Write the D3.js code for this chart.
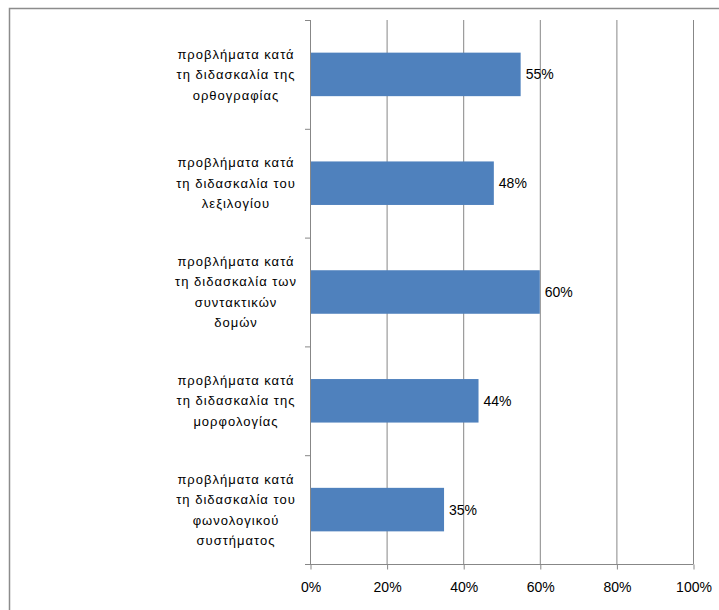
<!DOCTYPE html>
<html>
<head>
<meta charset="utf-8">
<script src="https://cdn.jsdelivr.net/npm/d3@7"></script>
<style>
  html, body { margin: 0; padding: 0; background: #fff; }
  svg { display: block; }
</style>
</head>
<body>
<svg id="chart" width="719" height="610"></svg>
<script>
// Categories (each entry is a list of wrapped label lines)
const categories = [
  ["προβλήματα κατά", "τη διδασκαλία της", "ορθογραφίας"],
  ["προβλήματα κατά", "τη διδασκαλία του", "λεξιλογίου"],
  ["προβλήματα κατά", "τη διδασκαλία των", "συντακτικών", "δομών"],
  ["προβλήματα κατά", "τη διδασκαλία της", "μορφολογίας"],
  ["προβλήματα κατά", "τη διδασκαλία του", "φωνολογικού", "συστήματος"]
];
// Percentage of respondents per category
const values = [55, 48, 60, 44, 35];
// Value axis ticks
const xTicks = [0, 20, 40, 60, 80, 100];

const svg = d3.select("#chart");
const font = "'Liberation Sans', Arial, sans-serif";
const gridColor = "#878787";

// Chart frame
svg.append("rect")
  .attr("x", 9.5).attr("y", 8.5)
  .attr("width", 730).attr("height", 620)
  .attr("fill", "none")
  .attr("stroke", "#8c8c8c")
  .attr("stroke-width", 1.5);

const plotL = 310, plotR = 693, plotT = 20, plotB = 564;

const x = d3.scaleLinear().domain([0, 100]).range([plotL, plotR]);
const y = d3.scaleBand()
  .domain(d3.range(categories.length))
  .range([plotT, plotB])
  .paddingInner(0.6)
  .paddingOuter(0.3);

// Vertical gridlines
svg.append("g")
  .selectAll("line")
  .data(xTicks.filter(d => d > 0))
  .join("line")
  .attr("x1", d => x(d) + 0.5).attr("x2", d => x(d) + 0.5)
  .attr("y1", plotT).attr("y2", plotB)
  .attr("stroke", gridColor)
  .attr("stroke-width", 1);

// Bars
svg.append("g")
  .selectAll("rect")
  .data(values)
  .join("rect")
  .attr("x", x(0))
  .attr("y", (d, i) => y(i))
  .attr("width", d => x(d) - x(0))
  .attr("height", y.bandwidth())
  .attr("fill", "#4f81bd");

// Value labels
svg.append("g")
  .selectAll("text")
  .data(values)
  .join("text")
  .attr("x", d => x(d) + 5)
  .attr("y", (d, i) => y(i) + y.bandwidth() / 2)
  .attr("dy", "0.36em")
  .attr("font-family", font)
  .attr("font-size", 14)
  .attr("fill", "#000")
  .text(d => d + "%");

// Value axis
const xAxis = d3.axisBottom(x)
  .tickValues(xTicks)
  .tickFormat(d => d + "%")
  .tickSizeInner(5)
  .tickSizeOuter(0)
  .tickPadding(13);
const gx = svg.append("g")
  .attr("transform", `translate(0.5,${plotB + 0.5})`)
  .call(xAxis);
gx.select(".domain").remove();
gx.append("line")
  .attr("x1", plotL - 5.5).attr("x2", plotR)
  .attr("stroke", gridColor);
gx.selectAll(".tick line").attr("stroke", gridColor);
gx.selectAll(".tick text")
  .attr("font-family", font)
  .attr("font-size", 14)
  .attr("fill", "#000");

// Category axis line with ticks between categories
const ga = svg.append("g");
ga.append("line")
  .attr("x1", plotL + 0.5).attr("x2", plotL + 0.5)
  .attr("y1", plotT).attr("y2", plotB)
  .attr("stroke", gridColor);
const step = (plotB - plotT) / categories.length;
ga.selectAll("line.tk")
  .data(d3.range(categories.length + 1))
  .join("line")
  .attr("class", "tk")
  .attr("x1", plotL - 5).attr("x2", plotL)
  .attr("y1", i => plotT + i * step + 0.5)
  .attr("y2", i => plotT + i * step + 0.5)
  .attr("stroke", gridColor);

// Category labels, centred lines
const lineH = 20.5;
const labels = svg.append("g")
  .selectAll("text")
  .data(categories)
  .join("text")
  .attr("font-family", font)
  .attr("font-size", 13)
  .attr("letter-spacing", 1)
  .attr("fill", "#000")
  .attr("text-anchor", "middle");
labels.each(function(lines, i) {
  const cy = y(i) + y.bandwidth() / 2;
  const start = cy - (lines.length - 1) * lineH / 2;
  d3.select(this).selectAll("tspan")
    .data(lines)
    .join("tspan")
    .attr("x", 236)
    .attr("y", (d, j) => start + j * lineH)
    .attr("dy", "0.36em")
    .text(d => d);
});
</script>
</body>
</html>
